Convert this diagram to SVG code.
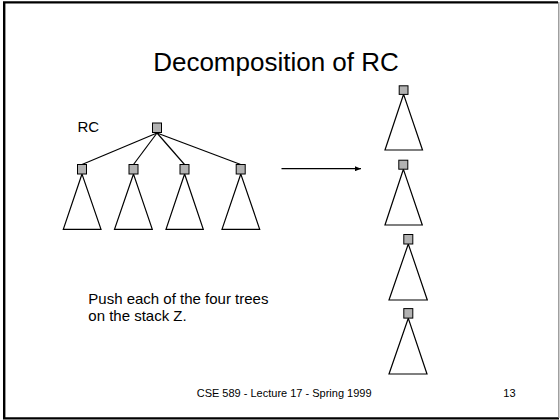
<svg xmlns="http://www.w3.org/2000/svg" width="560" height="420" viewBox="0 0 560 420">
<style>
.t{font-family:"Liberation Sans",Arial,sans-serif;fill:#000}
.sq{fill:#b2b2b2;stroke:#000;stroke-width:1}
.tri{fill:#fff;stroke:#000;stroke-width:1.2}
.ln{stroke:#000;stroke-width:1.2;fill:none}
</style>
<defs>
<marker id="ah" viewBox="0 0 10 10" refX="10" refY="5" markerWidth="6" markerHeight="5" markerUnits="userSpaceOnUse" orient="auto" preserveAspectRatio="none">
<path d="M0,0 L10,5 L0,10 Z" fill="#000"/>
</marker>
</defs>
<rect x="0" y="0" width="560" height="420" fill="#fff"/>
<g id="frame">
<line x1="4.2" y1="2.3" x2="4.2" y2="418.5" stroke="#000" stroke-width="2.4"/>
<line x1="3" y1="2.3" x2="558" y2="2.3" stroke="#000" stroke-width="2.2"/>
<line x1="3" y1="418.3" x2="559" y2="418.3" stroke="#000" stroke-width="2.2"/>
<line x1="558.8" y1="2" x2="558.8" y2="418" stroke="#888" stroke-width="1.2"/>
</g>
<g id="title"><text class="t" x="276" y="71" font-size="26" text-anchor="middle">Decomposition of RC</text></g>
<g id="label-rc"><text class="t" x="77.5" y="131.7" font-size="15">RC</text></g>
<g id="connectors">
<line class="ln" x1="157" y1="133" x2="82" y2="164.5"/>
<line class="ln" x1="157" y1="133" x2="133.5" y2="164.5"/>
<line class="ln" x1="157" y1="133" x2="184.5" y2="164.5"/>
<line class="ln" x1="157" y1="133" x2="240.7" y2="164.5"/>
<line class="ln" x1="281.5" y1="168.7" x2="361" y2="168.7" marker-end="url(#ah)" stroke-width="1"/>
</g>
<g id="root"><rect class="sq" x="152.5" y="123" width="9" height="9.5"/></g>
<g id="subtree1"><polygon class="tri" points="82,174 63.3,229.3 101,229.3"/><rect class="sq" x="77.5" y="164.5" width="9" height="9.5"/></g>
<g id="subtree2"><polygon class="tri" points="133.5,174 114.5,229.3 152.3,229.3"/><rect class="sq" x="129" y="164.5" width="9" height="9.5"/></g>
<g id="subtree3"><polygon class="tri" points="184.6,174 166,229.3 203.3,229.3"/><rect class="sq" x="180" y="164.5" width="9" height="9.5"/></g>
<g id="subtree4"><polygon class="tri" points="240.8,174 222,229.3 259.7,229.3"/><rect class="sq" x="236.2" y="164.5" width="9" height="9.5"/></g>
<g id="stack1"><polygon class="tri" points="403.6,94.3 385,150 422.5,150"/><rect class="sq" x="399.2" y="85.8" width="8.8" height="8.6"/></g>
<g id="stack2"><polygon class="tri" points="403.4,169.3 385,225 422.3,225"/><rect class="sq" x="398.8" y="160.2" width="9" height="9"/></g>
<g id="stack3"><polygon class="tri" points="408.3,244 389,300 427.3,300"/><rect class="sq" x="403.8" y="234.5" width="9" height="9.5"/></g>
<g id="stack4"><polygon class="tri" points="408.3,318.3 389,374 427,374"/><rect class="sq" x="403.8" y="308.6" width="9" height="9.5"/></g>
<g id="note"><text class="t" font-size="15"><tspan x="88.3" y="304">Push each of the four trees</tspan><tspan x="88.3" y="320.7">on the stack Z.</tspan></text></g>
<g id="footer">
<text class="t" x="196.7" y="397" font-size="11">CSE 589 - Lecture 17 - Spring 1999</text>
<text class="t" x="503.3" y="397" font-size="11">13</text>
</g>
</svg>
